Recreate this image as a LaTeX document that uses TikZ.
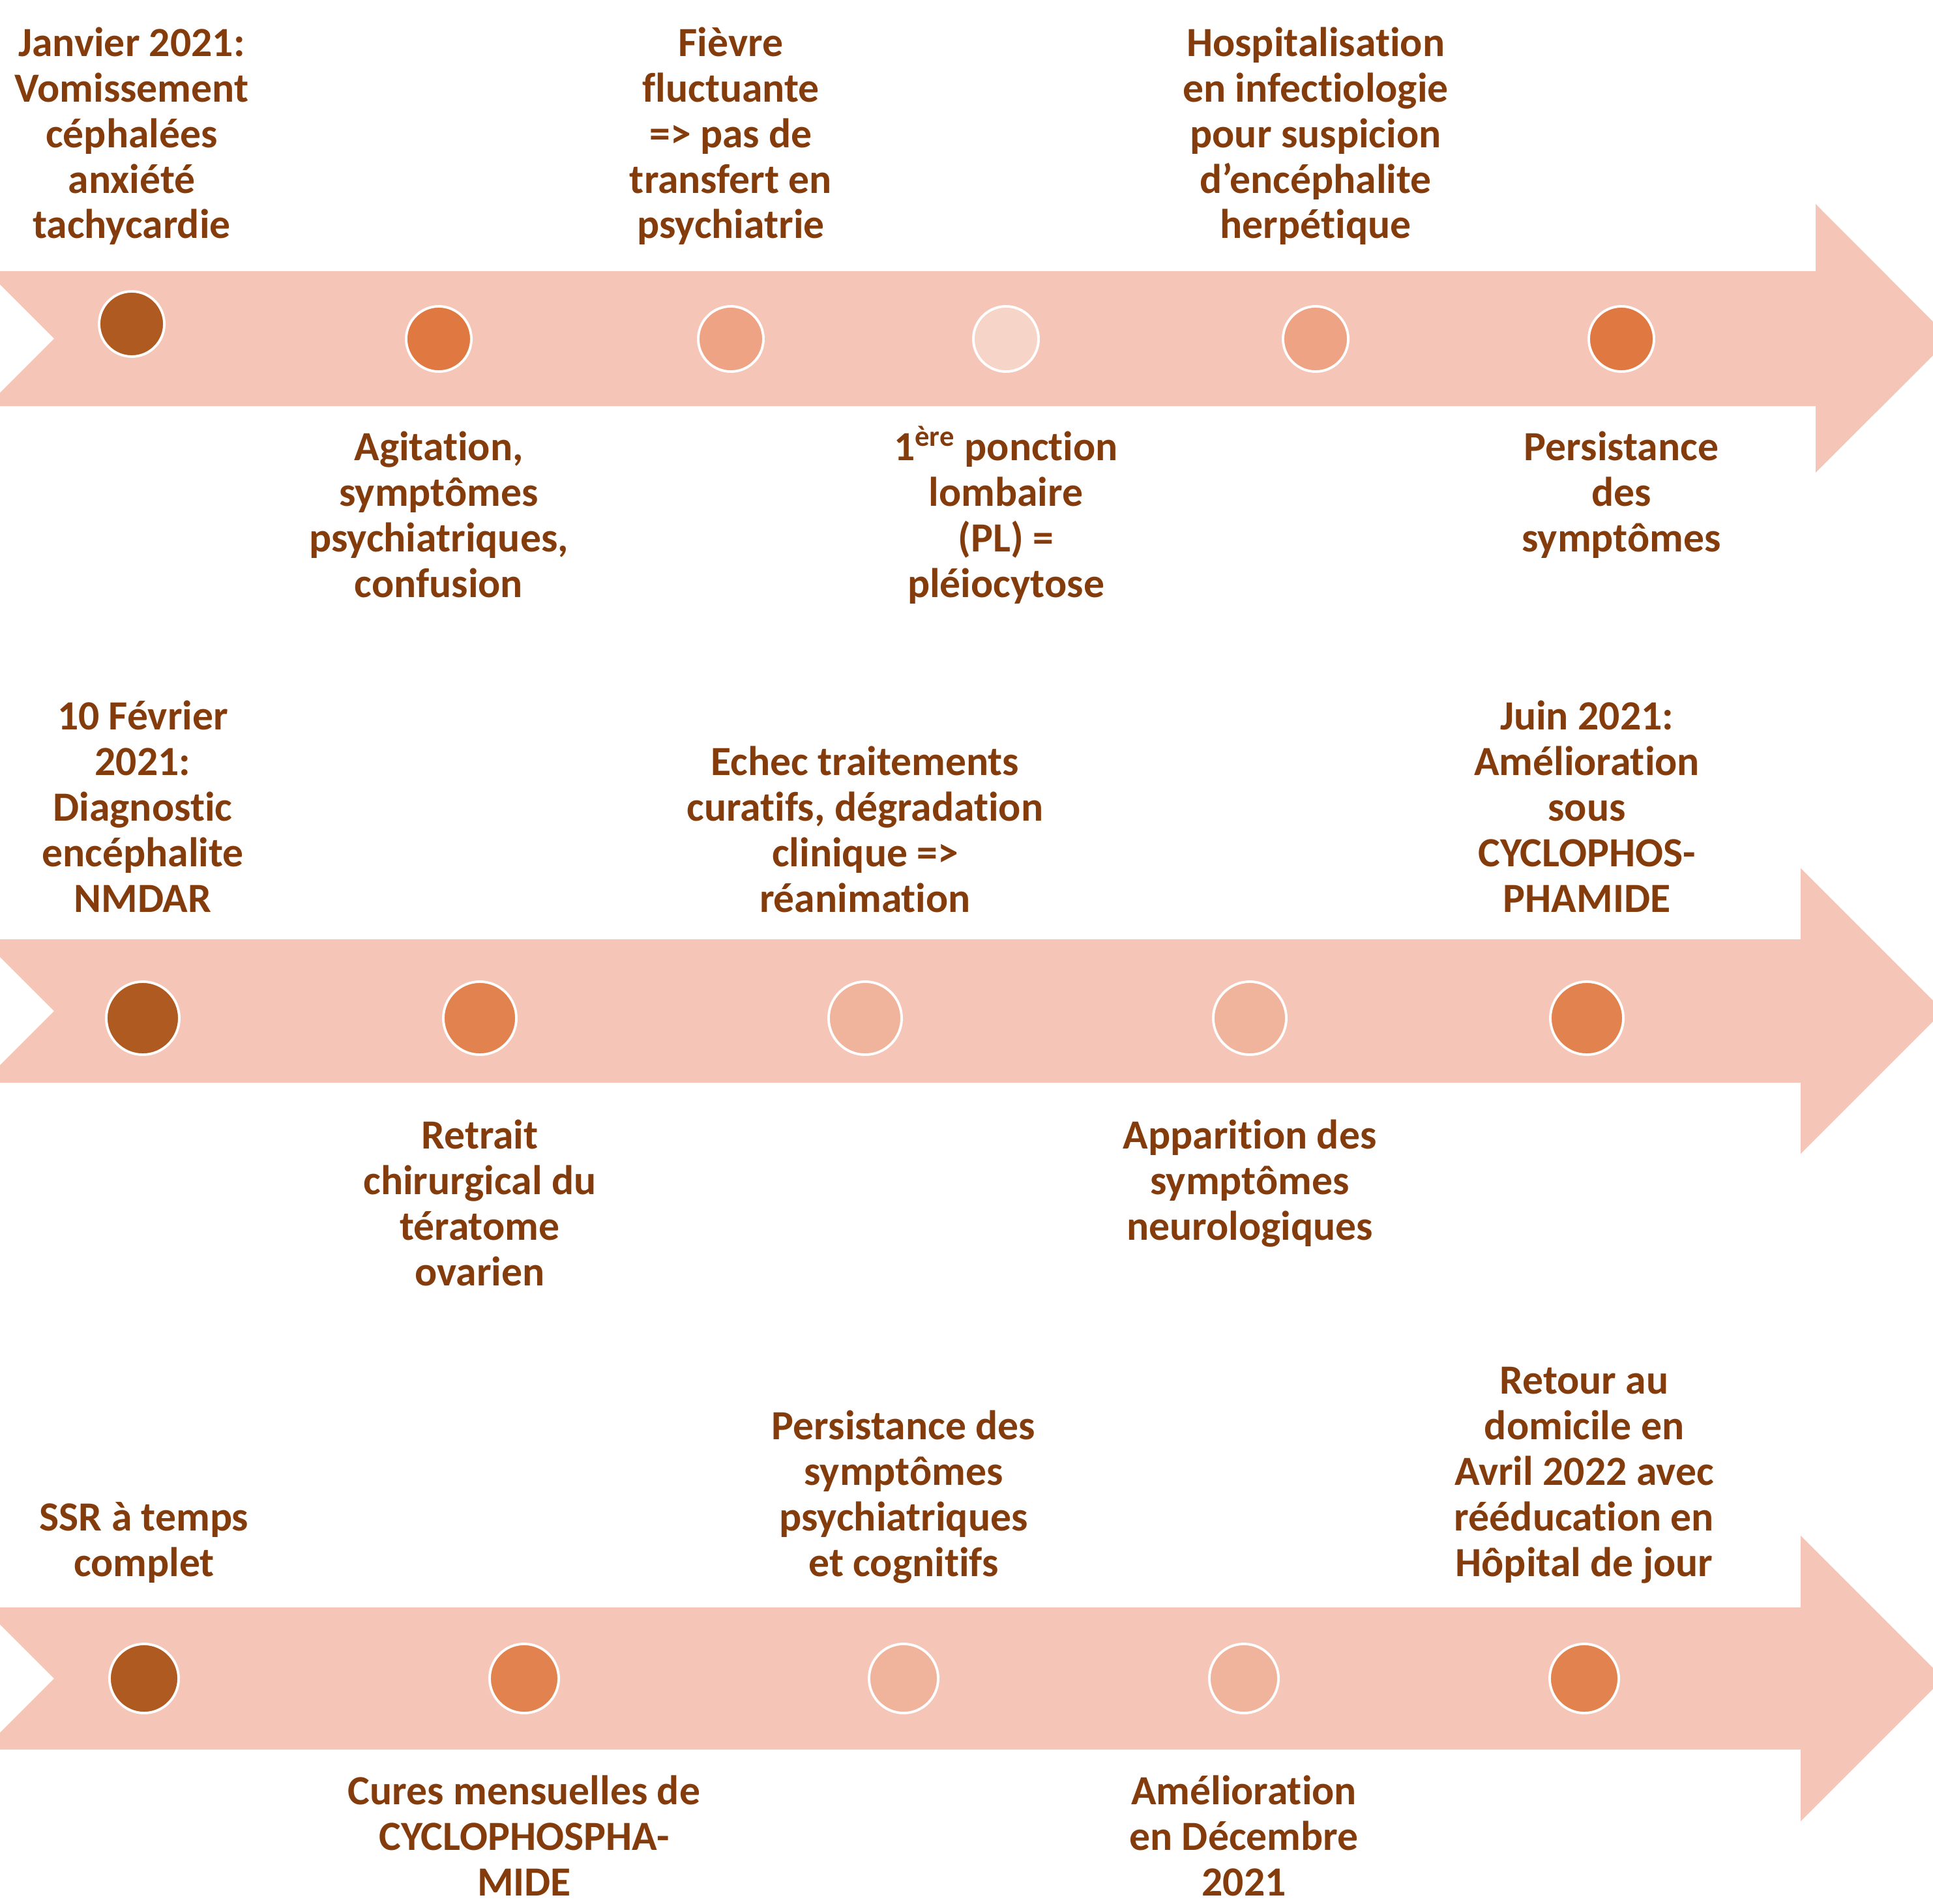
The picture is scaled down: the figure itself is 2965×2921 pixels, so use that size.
\documentclass[tikz,border=0pt]{standalone}
\usepackage{fontspec}
\setmainfont{Carlito}[Ligatures=TeX,RawFeature={-liga;-clig;-dlig;-calt}]
\usetikzlibrary{positioning}
\definecolor{bandpink}{HTML}{F5C6B7}
\definecolor{dotdark}{HTML}{AE5A21}
\definecolor{dotorange}{HTML}{DF7941}
\definecolor{dotsoft}{HTML}{E2834F}
\definecolor{dotsalmon}{HTML}{EDA384}
\definecolor{dotlight}{HTML}{F0B49C}
\definecolor{dotpale}{HTML}{F7D4C8}
\definecolor{textbrown}{HTML}{843C0C}
% band: top, bottom, head top, head bottom, head x
\newcommand{\timeband}[5]{\fill[bandpink]
  (0,#1)--(#5,#1)--(#5,#3)--({#5+(#4-#3)/2},{(#1+#2)/2})--(#5,#4)--(#5,#2)--(0,#2)
  --(0,{(#1+#2)/2+83})--(83,{(#1+#2)/2})--(0,{(#1+#2)/2-83})--cycle;}

\begin{document}
\begin{tikzpicture}[x=0.01cm,y=-0.01cm,
  dot/.style={circle,draw=white,line width=1.1pt,inner sep=0pt},
  event/.style={anchor=base,align=center,inner sep=0pt,text=textbrown,
    font=\fontsize{18.1}{19.9}\selectfont\bfseries}]
\useasboundingbox (0,0) rectangle (2965,2921);
\timeband{416}{623}{313}{725}{2785}
\timeband{1441}{1661}{1332}{1770}{2762}
\timeband{2466}{2684}{2356}{2794}{2762}
% row 1
\node[dot,fill=dotdark,minimum size=1cm] (d11) at (202,497) {};
\node[dot,fill=dotorange,minimum size=1cm] (d12) at (673,520) {};
\node[dot,fill=dotsalmon,minimum size=1cm] (d13) at (1121,520) {};
\node[dot,fill=dotpale,minimum size=1cm] (d14) at (1543,520) {};
\node[dot,fill=dotsalmon,minimum size=1cm] (d15) at (2018,520) {};
\node[dot,fill=dotorange,minimum size=1cm] (d16) at (2487,520) {};
\node[event] (janv) at (202,366) {Janvier 2021:\\Vomissement\\céphalées\\anxiété\\tachycardie};
\node[event] (fievre) at (1121,366) {Fièvre\\fluctuante\\=> pas de\\transfert en\\psychiatrie};
\node[event] (hosp) at (2018,366) {Hospitalisation\\en infectiologie\\pour suspicion\\d’encéphalite\\herpétique};
\node[event] (agit) at (673,916) {Agitation,\\symptômes\\psychiatriques,\\confusion};
\node[event] (ponct) at (1543,916) {1\textsuperscript{ère} ponction\\lombaire\\(PL) =\\pléiocytose};
\node[event] (pers) at (2487,846) {Persistance\\des\\symptômes};
% row 2
\node[dot,fill=dotdark,minimum size=1.12cm] (d21) at (219,1562) {};
\node[dot,fill=dotsoft,minimum size=1.12cm] (d22) at (736,1562) {};
\node[dot,fill=dotlight,minimum size=1.12cm] (d23) at (1327,1562) {};
\node[dot,fill=dotlight,minimum size=1.12cm] (d24) at (1917,1562) {};
\node[dot,fill=dotsoft,minimum size=1.12cm] (d25) at (2434,1562) {};
\node[event] (diag) at (219,1399) {10 Février\\2021:\\Diagnostic\\encéphalite\\NMDAR};
\node[event] (echec) at (1327,1399) {Echec traitements\\curatifs, dégradation\\clinique =>\\réanimation};
\node[event] (juin) at (2434,1399) {Juin 2021:\\Amélioration\\sous\\CYCLOPHOS-\\PHAMIDE};
\node[event] (retrait) at (736,1972) {Retrait\\chirurgical du\\tératome\\ovarien};
\node[event] (appar) at (1917,1902) {Apparition des\\symptômes\\neurologiques};
% row 3
\node[dot,fill=dotdark,minimum size=1.06cm] (d31) at (221,2575) {};
\node[dot,fill=dotsoft,minimum size=1.06cm] (d32) at (804,2575) {};
\node[dot,fill=dotlight,minimum size=1.06cm] (d33) at (1386,2575) {};
\node[dot,fill=dotlight,minimum size=1.06cm] (d34) at (1908,2575) {};
\node[dot,fill=dotsoft,minimum size=1.06cm] (d35) at (2430,2575) {};
\node[event] (ssr) at (221,2418) {SSR à temps\\complet};
\node[event] (persb) at (1386,2418) {Persistance des\\symptômes\\psychiatriques\\et cognitifs};
\node[event] (retour) at (2430,2418) {Retour au\\domicile en\\Avril 2022 avec\\rééducation en\\Hôpital de jour};
\node[event] (cures) at (804,2908) {Cures mensuelles de\\CYCLOPHOSPHA-\\MIDE};
\node[event] (amel) at (1908,2908) {Amélioration\\en Décembre\\2021};
\end{tikzpicture}
\end{document}
